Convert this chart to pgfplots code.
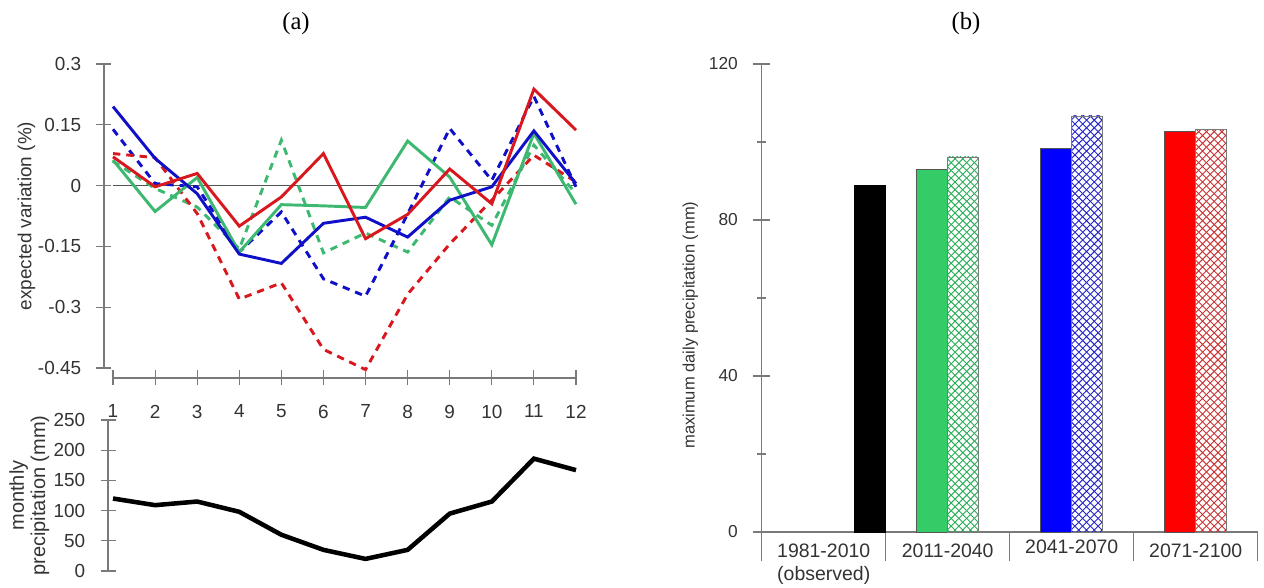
\documentclass[border=0pt]{standalone}
\usepackage{fontspec}
\setmainfont{Liberation Sans}
\newfontfamily\serifx{Liberation Serif}
\usepackage{pgfplots}
\pgfplotsset{compat=1.18}
\usetikzlibrary{patterns}
\definecolor{axg}{HTML}{7A7A7A}
\definecolor{txg}{HTML}{333333}
\definecolor{lgreen}{HTML}{3DB871}
\definecolor{lblue}{HTML}{1010C8}
\definecolor{lred}{HTML}{D8181E}
\definecolor{bgreen}{HTML}{33CC66}
\pgfdeclarepatternformonly{bigcross}{\pgfqpoint{-1pt}{-1pt}}{\pgfqpoint{6.8pt}{6.8pt}}{\pgfqpoint{5.8pt}{5.8pt}}{
  \pgfsetlinewidth{0.7pt}
  \pgfpathmoveto{\pgfqpoint{0pt}{0pt}}\pgfpathlineto{\pgfqpoint{5.8pt}{5.8pt}}
  \pgfpathmoveto{\pgfqpoint{0pt}{5.8pt}}\pgfpathlineto{\pgfqpoint{5.8pt}{0pt}}
  \pgfusepath{stroke}}
\pgfplotsset{
  common/.style={scale only axis, clip=false,
    axis line style={axg,line width=0.8pt},
    tick style={axg,line width=0.8pt}, tick align=outside,
    tick label style={font=\fontsize{14.2}{16}\selectfont, text=txg},
    /pgf/number format/assume math mode=true,
    label style={font=\fontsize{14.2}{16}\selectfont, text=txg}},
  sol/.style={line width=2.2pt, line join=miter, no markers},
  das/.style={line width=2.2pt, dash pattern=on 5.5pt off 4.5pt, no markers},
  noarrow/.style={x axis line style={-}, y axis line style={-}},
}
\begin{document}
\begin{tikzpicture}[x=1pt,y=1pt]
\path[use as bounding box] (0,0) rectangle (948,441);
\node[font=\serifx\fontsize{18.5}{20}\selectfont] at (222,423) {(a)};
\node[font=\serifx\fontsize{18.5}{20}\selectfont] at (724.5,423) {(b)};

% upper panel
\begin{axis}[common, at={(78pt,165pt)}, anchor=south west, width=354pt, height=228pt,
  xmin=0.786, xmax=12, ymin=-0.45, ymax=0.3,
  axis y line=left, axis x line=none, noarrow,
  ytick={-0.45,-0.3,-0.15,0,0.15,0.3},
  yticklabels={-0.45,-0.3,-0.15,0,0.15,0.3},
  major tick length=11.25pt,
  yticklabel style={xshift=-8pt},
  ylabel={expected variation (\%)},
  ylabel style={at={(axis description cs:-0.164,0.5)},anchor=center}]
\addplot[axg!70!black, line width=0.9pt, no markers] coordinates {(1,0) (12,0)};
\addplot[lgreen,das] coordinates {(1,0.060)(2,-0.007)(3,-0.053)(4,-0.156)(5,0.112)(6,-0.166)(7,-0.117)(8,-0.164)(9,-0.028)(10,-0.098)(11,0.100)(12,-0.020)};
\addplot[lblue,das] coordinates {(1,0.139)(2,0.005)(3,-0.003)(4,-0.164)(5,-0.065)(6,-0.230)(7,-0.273)(8,-0.070)(9,0.141)(10,0.013)(11,0.220)(12,-0.003)};
\addplot[lred,das] coordinates {(1,0.079)(2,0.069)(3,-0.069)(4,-0.280)(5,-0.240)(6,-0.404)(7,-0.454)(8,-0.268)(9,-0.144)(10,-0.036)(11,0.075)(12,0.009)};
\addplot[lgreen,sol] coordinates {(1,0.063)(2,-0.064)(3,0.020)(4,-0.164)(5,-0.047)(6,-0.050)(7,-0.054)(8,0.110)(9,0.021)(10,-0.146)(11,0.129)(12,-0.046)};
\addplot[lblue,sol] coordinates {(1,0.195)(2,0.067)(3,-0.020)(4,-0.169)(5,-0.192)(6,-0.093)(7,-0.078)(8,-0.127)(9,-0.036)(10,-0.003)(11,0.135)(12,0.005)};
\addplot[lred,sol] coordinates {(1,0.071)(2,-0.003)(3,0.030)(4,-0.100)(5,-0.028)(6,0.079)(7,-0.131)(8,-0.071)(9,0.041)(10,-0.045)(11,0.238)(12,0.137)};
\end{axis}

% month axis
\begin{axis}[common, at={(84.75pt,157.5pt)}, anchor=south west, width=347.25pt, height=1pt,
  xmin=1, xmax=12, ymin=0, ymax=1,
  axis x line=bottom, axis y line=none, noarrow,
  xtick={1,...,12}, major tick length=11.25pt,
  xticklabel style={yshift=-11pt}]
\end{axis}

% lower panel
\begin{axis}[common, at={(81pt,12.75pt)}, anchor=south west, width=351pt, height=113.25pt,
  xmin=0.881, xmax=12, ymin=0, ymax=250,
  axis y line=left, axis x line=none, noarrow,
  ytick={0,50,100,150,200,250}, major tick length=11.25pt,
  yticklabel style={xshift=-8pt},
  ylabel={monthly\\precipitation (mm)},
  ylabel style={at={(axis description cs:-0.168,0.5)},anchor=center,align=center,font=\fontsize{15}{16}\selectfont}]
\addplot[black, line width=3.4pt, no markers] coordinates {(1,120)(2,109)(3,115)(4,98)(5,60)(6,35)(7,20)(8,35)(9,95)(10,115)(11,186)(12,167)};
\end{axis}

% right panel
\begin{axis}[common, at={(571.3pt,42pt)}, anchor=south west, width=372pt, height=351pt,
  xmin=0, xmax=4, ymin=0, ymax=120,
  axis y line=left, axis x line=bottom, noarrow,
  ybar, bar shift=0pt, bar width=23.25pt,
  ytick={0,40,80,120}, minor y tick num=1,
  major tick length=12.75pt, minor tick length=6.5pt,
  yticklabel style={xshift=-8pt,font=\fontsize{13}{15}\selectfont},
  xtick={0,1,2,3,4}, xticklabels={},
  x tick style={axg,line width=0.8pt},
  major x tick style={/pgfplots/major tick length=21.5pt},
  ylabel={maximum daily precipitation (mm)},
  ylabel style={at={(axis description cs:-0.144,0.442)},anchor=center,font=\fontsize{12.4}{14}\selectfont}]
\addplot[draw=black, fill=black] coordinates {(0.875,89)};
\addplot[draw=axg!70!black, fill=bgreen] coordinates {(1.375,93.1)};
\addplot[draw=axg, pattern=bigcross, pattern color=bgreen!85!black] coordinates {(1.625,96.2)};
\addplot[draw=axg!70!black, fill=blue] coordinates {(2.375,98.5)};
\addplot[draw=axg, pattern=bigcross, pattern color=blue!75!black!85!white] coordinates {(2.625,106.7)};
\addplot[draw=axg!70!black, fill=red] coordinates {(3.375,102.8)};
\addplot[draw=axg, pattern=bigcross, pattern color=red!75!black!80!white] coordinates {(3.625,103.3)};
\end{axis}

% category labels of the right panel
\begin{axis}[common, at={(571.3pt,42pt)}, anchor=south west, width=372pt, height=1pt,
  xmin=0, xmax=4, ymin=0, ymax=1,
  axis x line=bottom, axis y line=none, noarrow,
  x axis line style={draw=none},
  x tick style={draw=none},
  xtick={0.5,1.5,2.5,3.5},
  xticklabels={{1981-2010\\(observed)},2011-2040,{\raisebox{0pt}[7.5pt][0pt]{2041-2070}},2071-2100},
  xticklabel style={align=center, anchor=north, yshift=-3.2pt,
    font=\fontsize{14.6}{17}\selectfont}]
\end{axis}
\end{tikzpicture}
\end{document}
